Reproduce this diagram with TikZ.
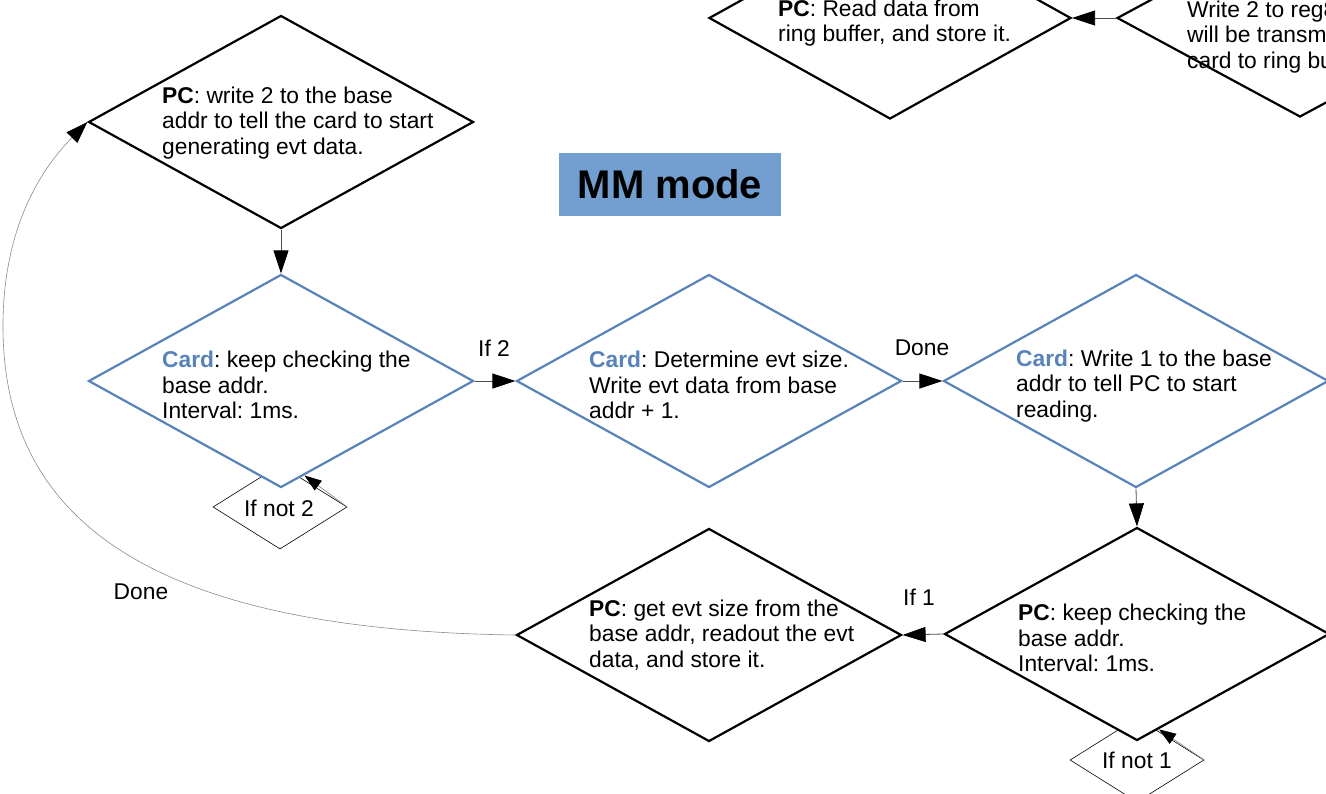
\documentclass[tikz,border=0pt]{standalone}
\usepackage{fontspec}
\setmainfont{Liberation Sans}
\usetikzlibrary{shapes.geometric,arrows.meta}
\definecolor{cardblue}{RGB}{88,131,186}
\definecolor{mmfill}{RGB}{114,159,207}
\newcommand\dfont{\fontsize{22.8}{25.3}\selectfont}
\frenchspacing
\begin{document}
\begin{tikzpicture}[x=1pt,y=-1pt,
  dia/.style={diamond, draw=black, line width=2.2pt, fill=white, inner sep=0pt, minimum width=385pt, minimum height=213pt},
  cdia/.style={dia, draw=cardblue},
  smalldia/.style={diamond, aspect=1.6, draw=black, line width=0.6pt, fill=white, inner sep=0pt, minimum width=134pt, minimum height=84pt, font=\dfont},
  txt/.style={anchor=west, align=left, inner sep=0pt, font=\dfont},
  conn/.style={draw=black!70, line width=0.8pt, -{Triangle[length=23pt,width=15pt,color=black]}},
  smallconn/.style={draw=black!45, line width=0.7pt, -{Triangle[length=17pt,width=12pt,color=black]}},
  loopconn/.style={draw=black!45, line width=0.6pt, -{Triangle[length=22pt,width=15pt,color=black]}},
  lbl/.style={font=\dfont, inner sep=0pt}
]
\clip (0,0) rectangle (1326,793);
\fill[white] (0,0) rectangle (1326,793);

% small loop diamonds (drawn first, partly hidden)
\node[smalldia] (n2) at (280,507) {};
\node[smalldia] (n1) at (1137,760) {};

% main diamonds
\node[dia] (d1) at (281,122) {};
\node[cdia] (d2) at (281,381) {};
\node[cdia] (d3) at (709,381) {};
\node[cdia] (d4) at (1136,381) {};
\node[dia] (d5) at (1137,634) {};
\node[dia] (d6) at (709,635) {};
\node[dia, minimum width=362pt, minimum height=202pt] (d7) at (890,18) {};
\node[dia, minimum width=366pt, minimum height=198pt] (d8) at (1300,18) {};

% loop labels
\node[lbl] (l2) at (279,508) {If not 2};
\node[lbl] (l1) at (1137,760) {If not 1};

% texts
\node[txt] (t1) at (162,123) {\textbf{PC}: write 2 to the base\\addr to tell the card to start\\generating evt data.};
\node[txt] (t2) at (162,385) {\textcolor{cardblue}{\textbf{Card}}: keep checking the\\base addr.\\Interval: 1ms.};
\node[txt] (t3) at (589,385) {\textcolor{cardblue}{\textbf{Card}}: Determine evt size.\\Write evt data from base\\addr + 1.};
\node[txt] (t4) at (1016,386) {\textcolor{cardblue}{\textbf{Card}}: Write 1 to the base\\addr to tell PC to start\\reading.};
\node[txt] (t5) at (1018,638) {\textbf{PC}: keep checking the\\base addr.\\Interval: 1ms.};
\node[txt] (t6) at (589,635) {\textbf{PC}: get evt size from the\\base addr, readout the evt\\data, and store it.};
\node[txt] (t7) at (778,23) {\textbf{PC}: Read data from\\ring buffer, and store it.};
\node[txt] (t8) at (1187,37) {Write 2 to reg8, then data\\will be transmitted from\\card to ring buffer.};

% title
\node[fill=mmfill, inner sep=0pt, minimum width=222pt, minimum height=63pt, font=\bfseries\fontsize{40}{41}\selectfont] (title) at (670,184.5) {MM mode};

% connector labels
\node[lbl] (c1) at (494,348) {If 2};
\node[lbl] (c2) at (922,348) {Done};
\node[lbl] (c3) at (919,597) {If 1};
\node[lbl] (c4) at (141,592) {Done};

% connectors
\coordinate (loopL) at (3,330);
\draw[conn] (d1.south) -- (d2.north);
\draw[conn] (d2.east) -- (d3.west);
\draw[conn] (d3.east) -- (d4.west);
\draw[conn] (d4.south) -- (d5.north);
\draw[conn] (d5.west) -- (d6.east);
\draw[conn] (d8.west) -- (d7.east);
\draw[smallconn] (n2.east) -- (d2.-76);
\draw[smallconn] (n1.east) -- (d5.-77);
\draw[loopconn] (d6.west) .. controls (150,630) and (5,520) .. (loopL) .. controls (2,230) and (40,170) .. (d1.west);
\end{tikzpicture}
\end{document}
